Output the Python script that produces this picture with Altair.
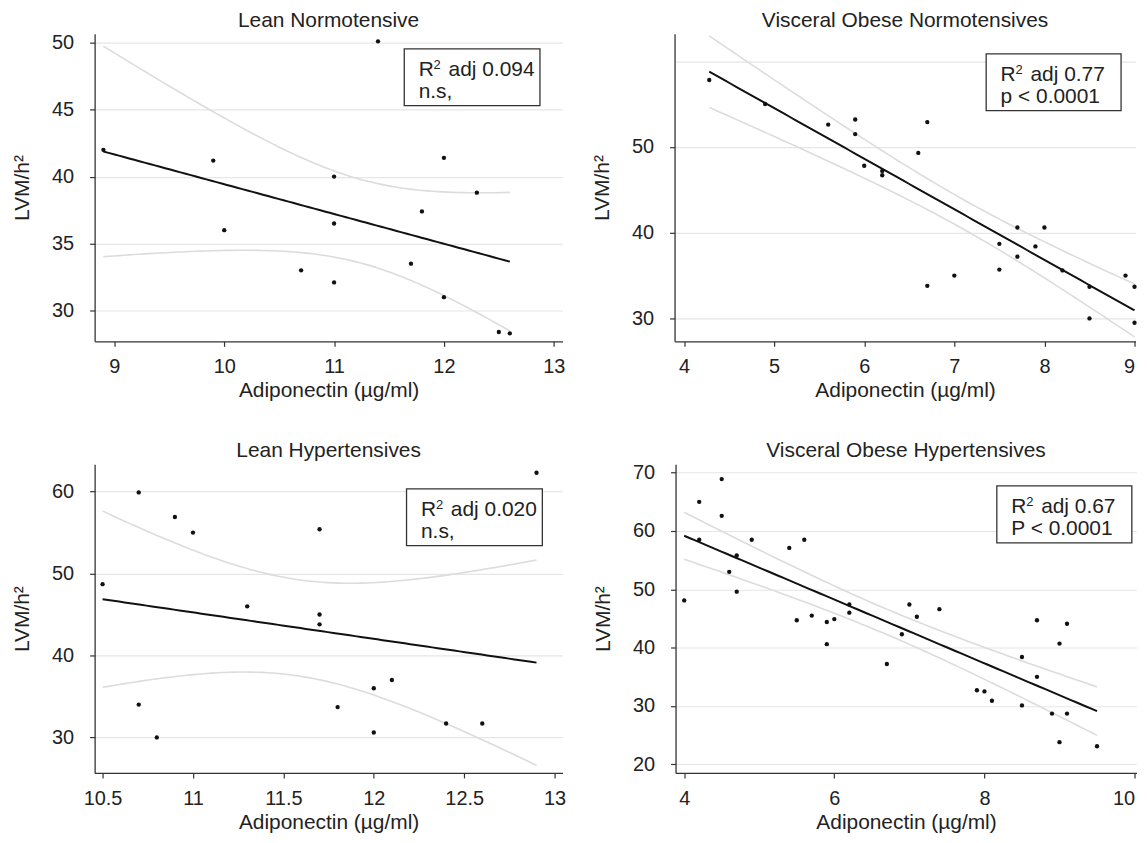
import altair as alt
import numpy as np
import pandas as pd

FONT = "Liberation Sans"
INK = "#222222"

# ---------------- data ----------------
# Lean Normotensive
ln_x = [8.9, 9.9, 10.0, 10.7, 11.0, 11.0, 11.0, 11.4, 11.7, 11.8, 12.0, 12.0, 12.3, 12.5, 12.6]
ln_y = [42.0, 41.2, 36.0, 33.0, 40.0, 36.5, 32.1, 50.1, 33.5, 37.4, 41.4, 31.0, 38.8, 28.4, 28.3]

# Visceral Obese Normotensives
von_x = [4.28, 4.9, 5.6, 5.9, 5.9, 6.0, 6.2, 6.2, 6.6, 6.7, 6.7, 7.0, 7.5, 7.5, 7.7, 7.7,
         7.9, 8.0, 8.2, 8.5, 8.5, 8.9, 9.0, 9.0]
von_y = [57.8, 55.0, 52.6, 53.2, 51.5, 47.8, 47.2, 46.7, 49.3, 52.9, 33.8, 35.0, 38.7, 35.7, 40.6, 37.2,
         38.4, 40.6, 35.6, 33.7, 30.0, 35.0, 33.7, 29.5]

# Lean Hypertensives
lh_x = [10.5, 10.7, 10.7, 10.8, 10.9, 11.0, 11.3, 11.7, 11.7, 11.7, 11.8, 12.0, 12.0, 12.1, 12.4, 12.6, 12.9]
lh_y = [48.7, 59.9, 34.0, 30.0, 56.9, 55.0, 46.0, 55.4, 45.0, 43.8, 33.7, 36.0, 30.6, 37.0, 31.7, 31.7, 62.3]

# Visceral Obese Hypertensives
voh_x = [4.0, 4.2, 4.2, 4.5, 4.5, 4.6, 4.7, 4.7, 4.9, 5.4, 5.5, 5.6, 5.7, 5.9, 5.9, 6.0, 6.2, 6.2,
         6.7, 6.9, 7.0, 7.1, 7.4, 7.9, 8.0, 8.1, 8.5, 8.5, 8.7, 8.7, 8.9, 9.0, 9.0, 9.1, 9.1, 9.5]
voh_y = [48.1, 65.0, 58.5, 68.9, 62.6, 53.0, 55.8, 49.6, 58.5, 57.1, 44.7, 58.5, 45.5, 44.4, 40.6, 44.9, 47.4, 46.0,
         37.2, 42.3, 47.4, 45.3, 46.6, 32.7, 32.5, 30.9, 38.4, 30.1, 44.7, 35.0, 28.7, 40.7, 23.8, 44.1, 28.7, 23.1]

# annotation texts
titles = ["Lean Normotensive", "Visceral Obese Normotensives", "Lean Hypertensives", "Visceral Obese Hypertensives"]
r2_text = ["adj 0.094", "adj 0.77", "adj 0.020", "adj 0.67"]
p_text = ["n.s,", "p < 0.0001", "n.s,", "P < 0.0001"]

# axis tick values
ln_xt = [9, 10, 11, 12, 13]
ln_yt = [30, 35, 40, 45, 50]
von_xt = [4, 5, 6, 7, 8, 9]
von_yt = [30, 40, 50, 60]
lh_xt = [10.5, 11, 11.5, 12, 12.5, 13]
lh_yt = [30, 40, 50, 60]
voh_xt = [4, 6, 8, 10]
voh_yt = [20, 30, 40, 50, 60, 70]

# two-sided 95% t critical values for n-2 degrees of freedom
T95 = {13: 2.160, 15: 2.131, 22: 2.074, 34: 2.032}


def fit_band(xs, ys, steps=80):
    """OLS fit of the points with its 95% confidence band for the mean."""
    x = np.asarray(xs, float)
    y = np.asarray(ys, float)
    n = len(x)
    xm, ym = x.mean(), y.mean()
    sxx = ((x - xm) ** 2).sum()
    b = ((x - xm) * (y - ym)).sum() / sxx
    a = ym - b * xm
    s = np.sqrt(((y - (a + b * x)) ** 2).sum() / (n - 2))
    gx = np.linspace(x.min(), x.max(), steps)
    fit = a + b * gx
    half = T95[n - 2] * s * np.sqrt(1.0 / n + (gx - xm) ** 2 / sxx)
    return pd.DataFrame({"x": gx, "fit": fit, "lo": fit - half, "hi": fit + half})


def panel(idx, xs, ys, xdom, ydom, xt, yt, w, h, box, flush=1, hide_label=None):
    pts = pd.DataFrame({"x": xs, "y": ys})
    band = fit_band(xs, ys)
    xsc = alt.Scale(domain=xdom, nice=False, zero=False)
    ysc = alt.Scale(domain=ydom, nice=False, zero=False)
    xax = alt.Axis(values=xt, labelExpr="'' + datum.value", grid=False, title="Adiponectin (µg/ml)",
                   labelPadding=10.5, titlePadding=3, labelFlush=flush)
    yargs = dict(values=yt, grid=True, title="LVM/h²", labelPadding=16, titlePadding=19)
    if hide_label is not None:
        yargs["labelExpr"] = f"datum.value == {hide_label} ? '' : datum.label"
        yargs["tickOpacity"] = {"condition": {"test": f"datum.value == {hide_label}", "value": 0}, "value": 1}
    yax = alt.Axis(**yargs)

    def X(f):
        return alt.X(f"{f}:Q", scale=xsc, axis=xax)

    def Y(f):
        return alt.Y(f"{f}:Q", scale=ysc, axis=yax)

    base = alt.Chart(band)
    hi = base.mark_line(color="#dcdcdc", strokeWidth=1.6).encode(x=X("x"), y=Y("hi"))
    lo = base.mark_line(color="#dcdcdc", strokeWidth=1.6).encode(x=X("x"), y=Y("lo"))
    fit = base.mark_line(color="#111111", strokeWidth=2).encode(x=X("x"), y=Y("fit"))
    dots = alt.Chart(pts).mark_circle(color="#111111", size=19, opacity=1).encode(x=X("x"), y=Y("y"))

    L, T, R, B = box
    one = alt.Chart(pd.DataFrame({"k": [0]}))
    rect = one.mark_rect(fill="white", stroke="#333333", strokeWidth=1.3).encode(
        x=alt.value(L), x2=alt.value(R), y=alt.value(T), y2=alt.value(B))
    txt = dict(font=FONT, color=INK, align="left", baseline="alphabetic")
    t_r = one.mark_text(text="R", fontSize=21, **txt).encode(x=alt.value(L + 14.5), y=alt.value(T + 27.5))
    t_2 = one.mark_text(text="2", fontSize=13, **txt).encode(x=alt.value(L + 29.5), y=alt.value(T + 20.5))
    t_a = one.mark_text(text=r2_text[idx], fontSize=21, **txt).encode(x=alt.value(L + 44.5), y=alt.value(T + 27.5))
    t_p = one.mark_text(text=p_text[idx], fontSize=21, **txt).encode(x=alt.value(L + 14.5), y=alt.value(T + 49.5))
    ttl = one.mark_text(text=titles[idx], fontSize=21, font=FONT, color=INK, align="center",
                        baseline="alphabetic").encode(x=alt.value(w / 2), y=alt.value(-7))

    return alt.layer(hi, lo, fit, dots, rect, t_r, t_2, t_a, t_p, ttl).properties(width=w, height=h)


p1 = panel(0, ln_x, ln_y, [8.82, 13.08], [27.70, 50.67], ln_xt, ln_yt, 470, 309,
           (311, 15.3, 447.3, 72.3))
p2 = panel(1, von_x, von_y, [3.895, 9.011], [27.33, 63.2], von_xt, von_yt, 463, 309,
           (313, 20.3, 448.5, 77.3), flush=5, hide_label=60)
p3 = panel(2, lh_x, lh_y, [10.456, 13.044], [25.66, 63.33], lh_xt, lh_yt, 470, 310,
           (313.3, 24.7, 449.7, 81.7))
p4 = panel(3, voh_x, voh_y, [3.885, 10.026], [18.52, 71.43], voh_xt, voh_yt, 463, 310,
           (322.7, 21.7, 458.3, 79.0), flush=5)

chart = alt.vconcat(
    alt.hconcat(p1, p2, spacing=25.5),
    alt.hconcat(p3, p4, spacing=25.5),
    spacing=39.5,
).properties(
    padding={"left": 3, "top": 0, "right": 0, "bottom": 0},
    background="white",
).configure_view(stroke=None).configure_axis(
    labelFont=FONT, labelFontSize=20, labelColor=INK,
    titleFont=FONT, titleFontSize=21, titleFontWeight="normal", titleColor=INK,
    domainColor="#333333", domainWidth=1.3,
    tickColor="#333333", tickWidth=1.2, tickSize=5,
    gridColor="#e6e6e6", gridWidth=1.2,
).configure_concat(spacing=25.5)

chart.save("out.html", embed_options={"renderer": "svg", "actions": False})
